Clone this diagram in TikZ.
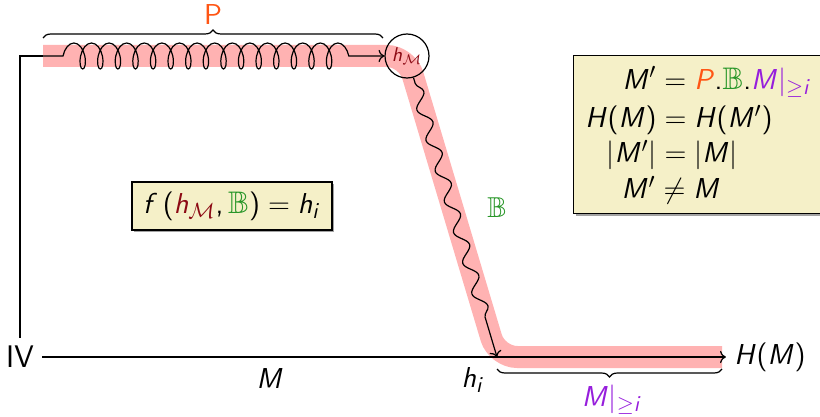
\documentclass[tikz,border=0pt]{standalone}
\usepackage{amssymb}
\DeclareSymbolFont{sfit}{OT1}{cmss}{m}{sl}
\DeclareSymbolFont{sfup}{OT1}{cmss}{m}{n}
\DeclareMathSymbol{M}{\mathalpha}{sfit}{`M}
\DeclareMathSymbol{H}{\mathalpha}{sfit}{`H}
\DeclareMathSymbol{P}{\mathalpha}{sfit}{`P}
\DeclareMathSymbol{f}{\mathalpha}{sfit}{`f}
\DeclareMathSymbol{h}{\mathalpha}{sfit}{`h}
\DeclareMathSymbol{i}{\mathalpha}{sfit}{`i}
\DeclareMathSymbol{(}{\mathopen}{sfup}{`(}
\DeclareMathSymbol{)}{\mathclose}{sfup}{`)}
\DeclareMathSymbol{,}{\mathpunct}{sfup}{`,}
\DeclareMathSymbol{.}{\mathord}{sfup}{`.}
\usetikzlibrary{decorations.pathmorphing,decorations.pathreplacing,shadows,arrows.meta}
\definecolor{porange}{RGB}{255,85,20}
\definecolor{bgreen}{RGB}{40,150,40}
\definecolor{mpurple}{RGB}{150,30,220}
\definecolor{hdark}{RGB}{140,10,20}
\definecolor{boxfill}{RGB}{245,240,200}
\definecolor{band}{RGB}{255,178,178}
\begin{document}
\begin{tikzpicture}[x=0.5pt,y=-0.5pt,
  font=\sffamily\fontsize{15.6}{18}\selectfont,
  line width=0.6pt,
  lbl/.style={inner sep=0pt},
  yellowbox/.style={draw=black, fill=boxfill, inner sep=0pt,
    drop shadow={shadow xshift=1.2pt, shadow yshift=-1.2pt, fill=black!60, opacity=0.6}},
  bracedeco/.style={decorate, decoration={brace, amplitude=4pt}},
]
\clip (0,0) rectangle (820,417);
% highlight band
\draw[band, line width=11pt, rounded corners=10pt, line join=round]
  (43,56) -- (407,56) -- (497,357) -- (722,357);

% nodes
\node[inner sep=4pt] (IV) at (20,357) {IV};
\node[inner sep=4pt] (HM) at (770,357) {$H(M)$};
\node[draw, circle, minimum size=22pt, inner sep=0pt, font=\sffamily\normalsize] (hM) at (407,56) {$\textcolor{hdark}{h_{\mathcal{M}}}$};
\coordinate (c0) at (43,56);
\coordinate (hiT) at (497,357);

% left path and coil
\draw (IV.north) |- (c0);
\draw[->, decorate, decoration={coil, amplitude=6.5pt, segment length=8.8pt, pre length=10pt, post length=11pt}] (c0) -- (hM.west);

% axis
\draw[->] (IV) -- (HM);

% snake
\draw[->, decorate, decoration={snake, amplitude=3pt, segment length=16pt, pre length=3pt, post length=13pt}] (hM) -- (hiT);

% top brace
\coordinate (bL) at (43,38);
\coordinate (bR) at (383,38);
\draw[bracedeco] (bL) -- (bR);
\node[lbl, font=\sffamily\Large, text=porange] (Plbl) at (213,15) {P};

% bottom brace
\coordinate (mR) at (722,369);
\coordinate (mL) at (497,369);
\draw[bracedeco] (mR) -- (mL);
\node[lbl] (Mge) at (612,400) {$\textcolor{mpurple}{M|_{\geq i}}$};

% labels
\node[lbl] (Mlbl) at (270,378) {$M$};
\node[lbl] (hilbl) at (473,380) {$h_i$};
\node[lbl, font=\sffamily\Large] (Blbl) at (497,208) {$\textcolor{bgreen}{\mathbb{B}}$};

% f box
\node[yellowbox, minimum width=100pt, minimum height=24pt] (fbox) at (232,206)
  {$f\,(\textcolor{hdark}{h_{\mathcal{M}}}, \textcolor{bgreen}{\mathbb{B}}) = h_i$};

% right box
\node[yellowbox, anchor=north west, minimum width=140pt, minimum height=79pt] (rbox) at (573,55) {};
\node[lbl] (r1) at (717,82) {$M' = \textcolor{porange}{P}.\textcolor{bgreen}{\mathbb{B}}.\textcolor{mpurple}{M|_{\geq i}}$};
\node[lbl] (r2) at (679,120) {$H(M) = H(M')$};
\node[lbl] (r3) at (672,155) {$|M'| = |M|$};
\node[lbl] (r4) at (671,190) {$M' \neq M$};
\end{tikzpicture}
\end{document}
